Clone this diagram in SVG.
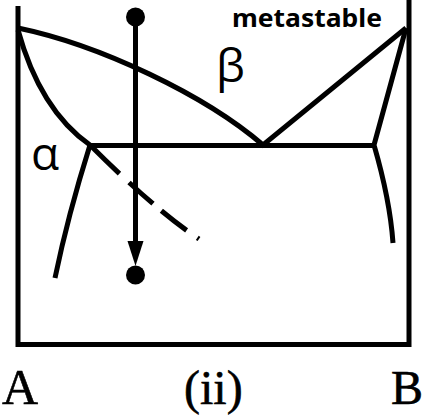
<svg xmlns="http://www.w3.org/2000/svg" width="423" height="419" viewBox="0 0 423 419">
<style>
.ln{fill:none;stroke:#000;stroke-width:5;stroke-linecap:butt;stroke-linejoin:miter}
.serif{font-family:"Liberation Serif","Times New Roman",serif;fill:#000}
.greek{font-family:"Open Sans","Noto Sans","DejaVu Sans",sans-serif;fill:#000}
</style>
<rect width="423" height="419" fill="#fff"/>
<g id="frame">
<path class="ln" d="M18,6 V344.5 H409 V0"/>
</g>
<g id="phase-lines">
<path class="ln" d="M18,28 C100,45 205,95 263,145 L406,28"/>
<path class="ln" d="M90,145.5 H374"/>
<path class="ln" d="M18,30 Q40,110 90,145 Q68,215 55,278"/>
<path class="ln" d="M406,28 L374,145 Q390,200 393,243"/>
<path class="ln" d="M90,145 Q154,209 199,239" stroke-dasharray="41 13 32 11 32 13 3 200"/>
</g>
<g id="path-arrow">
<circle cx="135.5" cy="17" r="9.5" fill="#000"/>
<path class="ln" d="M135.5,17 V243"/>
<path d="M127.5,241 L143.5,241 L135.5,266 Z" fill="#000"/>
<circle cx="135.5" cy="275" r="9.5" fill="#000"/>
</g>
<g id="labels">
<text x="232" y="27" font-family="'Noto Sans','Open Sans',sans-serif" font-weight="bold" font-size="25" textLength="150" lengthAdjust="spacingAndGlyphs">metastable</text>
<text class="greek" x="216" y="82" font-size="46">β</text>
<text class="greek" x="31" y="170" font-size="46">α</text>
<text class="serif" x="2" y="404" font-size="50" stroke="#000" stroke-width="0.6">A</text>
<text class="serif" x="184" y="404" font-size="48" stroke="#000" stroke-width="0.6">(ii)</text>
<text class="serif" x="391" y="404" font-size="48" stroke="#000" stroke-width="0.6">B</text>
</g>
</svg>
